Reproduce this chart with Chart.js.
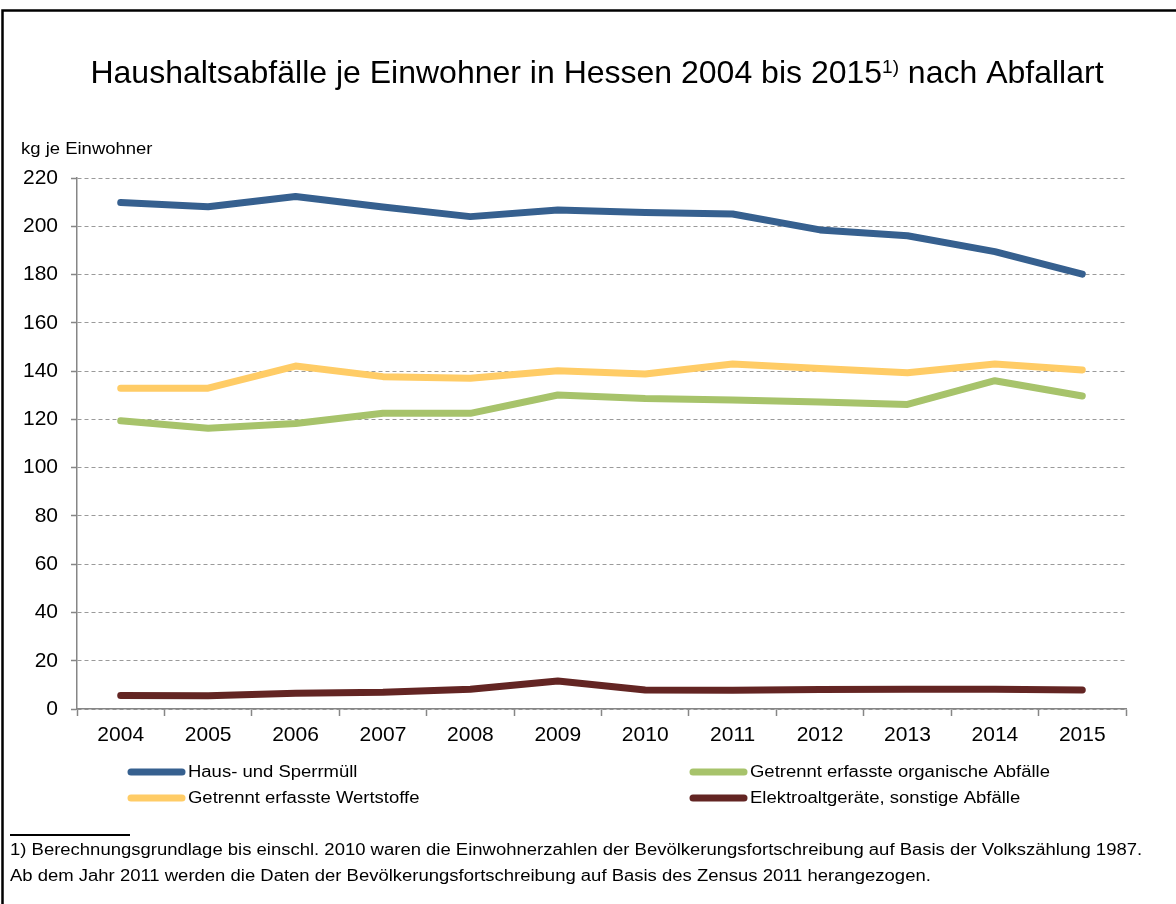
<!DOCTYPE html>
<html>
<head>
<meta charset="utf-8">
<title>Haushaltsabfälle je Einwohner in Hessen</title>
<script src="https://cdn.jsdelivr.net/npm/chart.js@4"></script>
<style>
  html, body { margin: 0; padding: 0; background: #fff; }
  canvas { display: block; }
</style>
</head>
<body>
<canvas id="chart" width="1176" height="904"></canvas>
<script>
const years = ["2004", "2005", "2006", "2007", "2008", "2009", "2010", "2011", "2012", "2013", "2014", "2015"];
const hausSperrmuell = [209.8, 208.1, 212.3, 208.0, 204.0, 206.7, 205.7, 205.1, 198.5, 196.1, 189.5, 180.2];
const organisch = [119.4, 116.3, 118.3, 122.5, 122.5, 130.1, 128.6, 128.0, 127.2, 126.2, 136.0, 129.7];
const wertstoffe = [132.9, 132.9, 142.1, 137.7, 137.0, 140.1, 138.8, 142.9, 141.1, 139.3, 142.9, 140.5];
const elektro = [5.6, 5.5, 6.5, 6.9, 8.2, 11.6, 7.9, 7.8, 8.1, 8.2, 8.2, 7.9];
const yTicks = [0, 20, 40, 60, 80, 100, 120, 140, 160, 180, 200, 220];

const FONT = "'Liberation Sans', Arial, sans-serif";
const axisGray = "#868686";
const SMALL = 16;      // small text size
const STRETCH = 1.155; // small text in the original is drawn a bit wide

function wideText(ctx, text, x, y) {
  ctx.save();
  ctx.translate(x, y);
  ctx.scale(STRETCH, 1);
  ctx.font = SMALL + "px " + FONT;
  ctx.textBaseline = "middle";
  ctx.fillStyle = "#000";
  ctx.fillText(text, 0, 0);
  ctx.restore();
}

// frame, title, unit label, legend and footnote drawn around the plot
const decorations = {
  id: "decorations",
  afterDraw(chart) {
    const ctx = chart.ctx;
    ctx.save();

    // frame (top and left edge visible)
    ctx.strokeStyle = "#000";
    ctx.lineWidth = 2.5;
    ctx.beginPath();
    ctx.moveTo(2.5, 904);
    ctx.lineTo(2.5, 10.5);
    ctx.lineTo(1176, 10.5);
    ctx.stroke();

    // title with superscript
    const part1 = "Haushaltsabfälle je Einwohner in Hessen 2004 bis 2015";
    const sup = "1)";
    const part2 = " nach Abfallart";
    ctx.fillStyle = "#000";
    ctx.textBaseline = "alphabetic";
    ctx.font = "32px " + FONT;
    const w1 = ctx.measureText(part1).width;
    const w3 = ctx.measureText(part2).width;
    ctx.font = "19px " + FONT;
    const w2 = ctx.measureText(sup).width;
    let x = 597 - (w1 + w2 + w3) / 2;
    ctx.font = "32px " + FONT;
    ctx.fillText(part1, x, 83);
    x += w1;
    ctx.font = "19px " + FONT;
    ctx.fillText(sup, x, 73);
    x += w2;
    ctx.font = "32px " + FONT;
    ctx.fillText(part2, x, 83);

    // unit label
    wideText(ctx, "kg je Einwohner", 21, 150);

    // legend, two columns
    const cols = [128, 690];
    const rows = [773, 799];
    chart.data.datasets.forEach((ds, i) => {
      const cx = cols[i % 2];
      const cy = rows[Math.floor(i / 2)];
      ctx.strokeStyle = ds.borderColor;
      ctx.lineWidth = 7;
      ctx.lineCap = "round";
      ctx.beginPath();
      ctx.moveTo(cx + 3, cy - 1);
      ctx.lineTo(cx + 54, cy - 1);
      ctx.stroke();
      wideText(ctx, ds.label, cx + 60, cy);
    });

    // footnote
    ctx.strokeStyle = "#000";
    ctx.lineWidth = 2;
    ctx.lineCap = "butt";
    ctx.beginPath();
    ctx.moveTo(10, 835);
    ctx.lineTo(130, 835);
    ctx.stroke();
    wideText(ctx, "1) Berechnungsgrundlage bis einschl. 2010 waren die Einwohnerzahlen der Bevölkerungsfortschreibung auf Basis der Volkszählung 1987.", 10, 851);
    wideText(ctx, "Ab dem Jahr 2011 werden die Daten der Bevölkerungsfortschreibung auf Basis des Zensus 2011 herangezogen.", 10, 877);

    ctx.restore();
  }
};

const lineStyle = {
  borderWidth: 7,
  pointRadius: 0,
  pointHoverRadius: 0,
  tension: 0,
  borderCapStyle: "round",
  borderJoinStyle: "round",
  fill: false,
};

new Chart(document.getElementById("chart"), {
  type: "line",
  data: {
    labels: years,
    datasets: [
      { label: "Haus- und Sperrmüll", data: hausSperrmuell, borderColor: "#36608f", backgroundColor: "#36608f", ...lineStyle },
      { label: "Getrennt erfasste organische Abfälle", data: organisch, borderColor: "#a7c36b", backgroundColor: "#a7c36b", ...lineStyle },
      { label: "Getrennt erfasste Wertstoffe", data: wertstoffe, borderColor: "#ffcc66", backgroundColor: "#ffcc66", ...lineStyle },
      { label: "Elektroaltgeräte, sonstige Abfälle", data: elektro, borderColor: "#632523", backgroundColor: "#632523", ...lineStyle },
    ],
  },
  options: {
    responsive: false,
    animation: false,
    events: [],
    layout: { padding: { top: 178, right: 50, bottom: 155, left: 0 } },
    plugins: {
      legend: { display: false },
      title: { display: false },
      tooltip: { enabled: false },
    },
    scales: {
      x: {
        offset: true,
        afterFit: (scale) => { scale.height = 40; },
        grid: {
          display: true,
          drawOnChartArea: false,
          offset: true,
          tickLength: 7,
          color: axisGray,
          tickWidth: 1.5,
        },
        border: { display: true, color: axisGray, width: 1.5 },
        ticks: { color: "#000", font: { size: 21, family: FONT }, padding: 7, maxRotation: 0 },
      },
      y: {
        min: 0,
        max: 220,
        afterFit: (scale) => { scale.width = 77; },
        afterBuildTicks: (scale) => { scale.ticks = yTicks.map((v) => ({ value: v })); },
        grid: {
          color: "#9a9a9a",
          lineWidth: 1,
          tickLength: 6,
          tickColor: axisGray,
          tickWidth: 1.5,
        },
        border: { display: true, color: axisGray, width: 1.5, dash: [4, 3] },
        ticks: { color: "#000", font: { size: 21, family: FONT }, padding: 13 },
      },
    },
  },
  plugins: [decorations],
});
</script>
</body>
</html>
